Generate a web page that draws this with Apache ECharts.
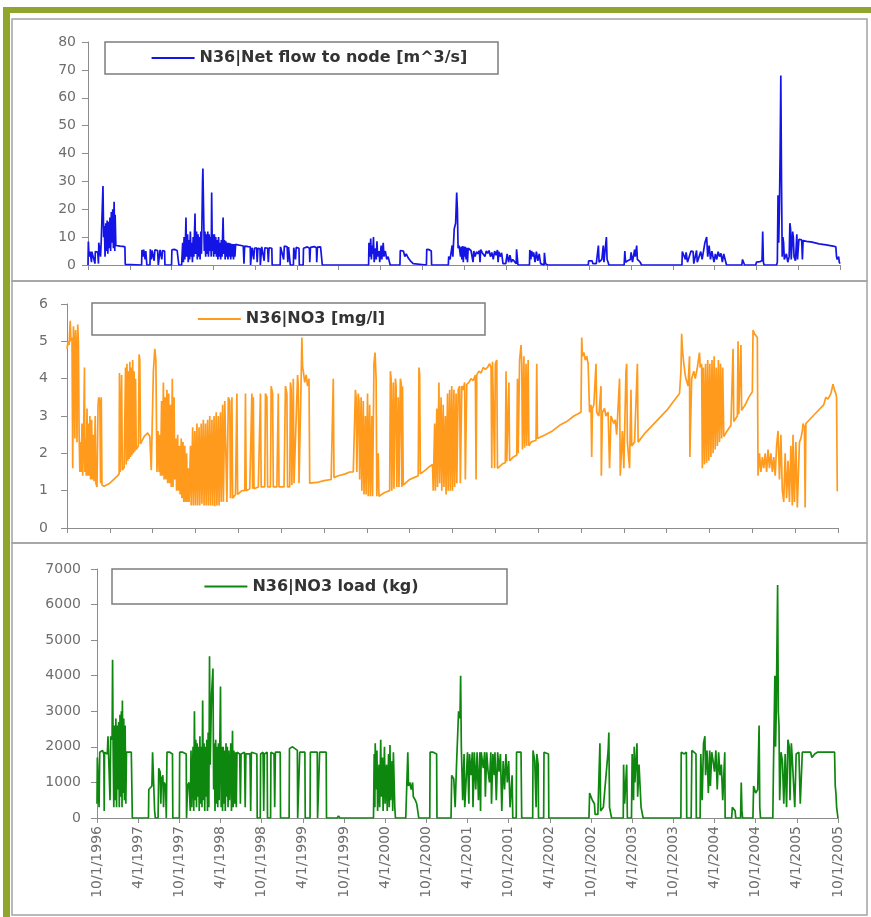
<!DOCTYPE html>
<html><head><meta charset="utf-8">
<script src="https://cdn.jsdelivr.net/npm/echarts@6/dist/echarts.min.js"></script>
<style>html,body{margin:0;padding:0;background:#fff}#c{width:871px;height:917px}</style>
</head><body><div id="c"></div>
<script>
// x values are months after 10/1/1996
const dateLabels = ['10/1/1996','4/1/1997','10/1/1997','4/1/1998','10/1/1998','4/1/1999','10/1/1999','4/1/2000','10/1/2000','4/1/2001','10/1/2001','4/1/2002','10/1/2002','4/1/2003','10/1/2003','4/1/2004','10/1/2004','4/1/2005','10/1/2005'];
const seriesNames = ['N36|Net flow to node [m^3/s]', 'N36|NO3 [mg/l]', 'N36|NO3 load (kg)'];

const flowData = [
[0,0],[0.05,8.4],[0.15,3],[0.3,4.8],[0.5,1],[0.55,4.8],[0.8,4.5],[1.0,0.5],[1.05,4.8],[1.4,4.6],[1.5,0.5],[1.55,8],[1.7,7.8],[1.8,3],[1.9,8.5],[2.1,8],[2.15,28.3],[2.25,10],[2.35,14],[2.45,3],[2.55,15],[2.65,5],[2.75,16],[2.85,4],[2.95,15.5],[3.05,6],[3.15,17],[3.25,5],[3.35,19],[3.45,8],[3.55,20],[3.65,6],[3.75,22.7],[3.85,5],[3.9,18],[4.0,7],[4.1,7],[4.6,6.8],[5.0,6.7],[5.3,6.5],[5.35,0.2],
[7.7,0],[7.75,5.4],[7.9,3],[8.0,5.5],[8.2,2],[8.3,5],[8.4,5.2],[8.45,0],[8.9,0],[8.95,5.6],[9.1,2],[9.2,5.2],[9.4,4.8],[9.5,1.5],[9.6,5.4],[9.8,5],[10.0,5.2],[10.1,0],[10.3,0],[10.35,5.4],[10.6,2],[10.7,5.2],[11.0,5],[11.05,0],[12.0,0],[12.05,5.4],[12.4,5.6],[12.8,5.2],[13.0,4.8],[13.05,0],[13.45,0],
[13.5,3],[13.6,8],[13.7,1],[13.8,10],[13.9,2],[14.0,9],[14.07,17],[14.15,3],[14.3,11],[14.4,1],[14.5,9],[14.6,2],[14.7,12],[14.8,3],[14.9,8],[15.0,1],[15.1,10],[15.2,3],[15.37,18.5],[15.45,4],[15.6,12],[15.7,2],[15.8,11],[15.9,3],[16.0,10],[16.1,2],[16.2,12],[16.3,4],[16.45,30],[16.5,34.6],[16.65,34],[16.7,5],[16.8,12],[16.9,3],[17.0,11],[17.1,4],[17.2,12],[17.3,3],[17.4,11],[17.5,5],[17.6,10],[17.7,3],[17.76,26],[17.85,5],[17.95,11],[18.05,3],[18.15,11],[18.25,4],[18.35,10],[18.45,3],[18.55,9],[18.65,2],[18.75,10],[18.85,3],[18.95,8],[19.05,2],[19.15,9],[19.25,3],[19.4,17],[19.5,4],[19.6,9],[19.7,2],[19.8,8.5],[19.9,3],[20.0,8],[20.1,2],[20.2,8],[20.3,3],[20.4,7.8],[20.5,2],[20.6,7.6],[20.7,3],[20.8,7.5],[20.9,2],[21.0,7.5],[21.1,3],[21.2,7.4],[21.35,7.2],
[21.5,7.2],[21.6,7.4],[22.0,7.0],[22.3,6.8],[22.4,0.5],[22.5,6.8],[23.0,6.6],[23.3,6.5],[23.35,0],[23.5,0],[23.55,6.2],[23.8,2],[23.9,6],[24.2,6.2],[24.3,1],[24.4,6],[24.7,5.8],[24.75,0],[24.9,0],[24.95,6.5],[25.3,1.5],[25.4,6.2],[25.8,6],[25.9,1],[26.0,6.2],[26.4,6],[26.45,0],[27.6,0],[27.65,6.5],[27.9,7],[28.1,2],[28.2,6.8],[28.6,6.5],[28.7,1],[28.8,6.4],[29.0,6],[29.05,0],[29.5,0],[29.55,6.2],[29.8,2],[29.9,6.3],[30.3,6],[30.35,0],[30.9,0],[30.95,6],[31.5,6.5],[31.8,6],[31.85,1],[31.95,6.3],[32.5,6.6],[32.8,6.2],[32.85,1],[32.95,6.4],[33.4,6.5],[33.6,6],[33.65,0],
[40.3,0],[40.35,8],[40.5,3],[40.6,9.5],[40.7,2],[40.8,7],[40.9,4],[41.0,10],[41.1,1],[41.3,6],[41.4,2],[41.5,8.5],[41.6,3],[41.8,5],[41.9,1],[42.1,7],[42.2,2],[42.4,8],[42.5,3],[42.7,5],[42.9,2],[43.1,3],[43.4,0],
[44.8,0],[44.85,5.2],[45.3,5],[45.5,3],[45.7,4],[46.0,2.5],[46.3,1.5],[46.7,0.5],[46.8,0],
[48.6,0],[48.65,5.6],[49.0,5.5],[49.3,5],[49.35,0],
[51.75,0],[51.8,3],[52.0,2],[52.3,7],[52.4,3],[52.6,13],[52.8,15],[52.95,26],[53.05,20],[53.15,6],[53.3,7],[53.4,7.2],
[53.5,3],[53.6,6.5],[53.7,2],[53.8,6.8],[53.9,1],[54.0,6.6],[54.1,3],[54.2,6.5],[54.3,2],[54.4,6.2],[54.5,1],[54.6,6],[54.8,5.6],[55.0,5.2],[55.2,5.5],[55.3,1],[55.4,5],[55.6,3],[55.8,4.8],[56.0,4],[56.2,5.2],[56.3,1],[56.4,5.5],[56.6,4.5],[56.8,5.2],[57.0,3],[57.2,5],[57.4,4.2],[57.6,5.2],[57.8,3],[58.0,4.5],[58.2,2],[58.4,5],[58.6,3.5],[58.8,5.4],[58.9,1],[59.0,4.8],[59.2,3],[59.4,4.4],[59.6,0.5],
[59.7,0],[60.0,0.5],[60.2,4],[60.4,1],[60.6,3.5],[60.8,1],[61.0,2],[61.5,0.5],[61.55,5.6],[61.7,5.4],[61.75,0],[63.4,0],[63.45,5.4],[63.6,2],[63.7,5],[63.9,3],[64.0,4.5],[64.2,1],[64.4,4.8],[64.6,1.5],[64.8,4],[65.0,0.5],[65.5,0],[65.55,4.4],[65.7,0.5],[66.0,0],
[71.85,0],[71.9,1.5],[72.4,1.5],[72.5,0.5],[73.0,0.5],[73.3,7],[73.4,1],[73.8,2],[74.0,7],[74.1,1],[74.45,10],[74.55,2],[74.7,1],[74.8,0],
[77.0,0],[77.1,5],[77.2,1],[77.5,1.5],[77.9,2],[78.0,4.5],[78.2,1],[78.5,5.5],[78.6,3],[78.8,7],[78.9,2],[79.1,2.5],[79.3,1],[79.5,0],
[85.3,0],[85.35,4.8],[85.6,5.2],[85.8,2],[85.9,4.5],[86.1,1],[86.6,5],[86.9,4.8],[87.0,0.5],[87.4,5.2],[87.5,1],[87.7,0.5],[88.0,4.8],[88.2,2],[88.6,8],[88.85,10],[89.0,3],[89.2,7],[89.4,2],[89.6,5],[89.8,4.5],[89.9,1],[90.1,4],[90.3,2],[90.5,4.8],[90.7,3],[90.9,4.2],[91.1,1],[91.3,4],[91.5,2],[91.7,0],
[93.9,0],[94.0,2],[94.2,1.5],[94.3,0],
[95.9,0],[96.0,1],[96.5,1.2],[96.8,1.5],[96.9,12],[97.0,1],[97.1,0],
[98.9,0],[99.0,1],[99.1,25],[99.2,8],[99.3,20],[99.4,40],[99.5,68],[99.6,30],[99.7,3],[99.8,10],[99.9,8],[100.0,2],[100.3,4],[100.5,1],[100.7,3],[100.8,15],[100.9,13],[101.0,2],[101.2,12],[101.3,10],[101.4,3],[101.6,1.5],[101.8,11],[101.9,2],[102.1,9.2],[102.3,9],[102.5,9],[102.6,2],[102.7,8.8],[103.2,8.5],[104,8.2],[105,7.6],[106,7.2],[107,6.8],[107.4,6.5],[107.5,3],[107.6,2],[107.8,3],[107.9,1],[108,0.5]
];

const no3Data = [
[0,4.8],[0.15,5.0],[0.3,4.9],[0.45,5.55],[0.55,5.0],[0.7,5.1],[0.8,1.6],[0.9,5.4],[1.0,4.9],[1.1,2.4],[1.2,5.3],[1.3,4.8],[1.4,2.3],[1.5,5.45],[1.6,5.0],[1.7,2.5],[1.8,1.5],[1.9,2.3],[2.0,1.5],[2.1,2.8],[2.2,1.4],[2.3,2.2],[2.45,4.3],[2.5,1.5],[2.6,2.4],[2.7,1.4],[2.8,3.2],[2.9,1.4],[3.0,2.8],[3.1,1.4],[3.2,3.0],[3.3,1.3],[3.45,2.9],[3.55,1.3],[3.7,2.5],[3.8,1.25],[3.95,3.0],[4.05,1.2],[4.2,1.1],[4.35,3.3],[4.45,3.5],[4.6,3.4],[4.7,1.2],[4.8,3.5],[4.9,1.15],[5.2,1.12],[6.0,1.2],[7.0,1.38],[7.3,1.45],[7.35,4.15],[7.45,1.5],[7.65,4.1],[7.75,1.55],[8.0,1.62],
[8.2,4.3],[8.3,1.7],[8.4,4.4],[8.5,1.8],[8.6,4.2],[8.7,1.85],[8.8,4.45],[8.9,1.9],[9.0,4.3],[9.1,1.95],[9.2,4.5],[9.3,2.0],[9.4,4.2],[9.5,2.05],[9.6,4.0],[9.7,2.1],[9.8,2.15],[10.0,2.2],[10.1,4.65],[10.2,4.5],[10.3,2.25],[10.8,2.45],[11.3,2.55],[11.6,2.45],[11.8,1.55],[11.9,1.6],[12.1,4.2],[12.3,4.8],[12.45,4.5],
[12.6,1.5],[12.75,2.6],[12.9,1.5],[13.0,2.5],[13.1,1.4],[13.25,3.4],[13.35,1.4],[13.5,3.9],[13.6,1.3],[13.75,3.5],[13.85,1.3],[14.0,3.7],[14.1,1.2],[14.25,3.6],[14.35,1.2],[14.5,3.3],[14.6,1.1],[14.75,4.0],[14.85,1.1],[15.0,3.5],[15.1,1.3],[15.25,2.4],[15.35,1.0],[15.5,2.5],[15.6,1.0],[15.75,2.2],[15.85,0.9],[16.0,2.4],[16.1,0.8],[16.25,2.3],[16.35,0.7],[16.5,2.2],[16.6,0.7],[16.75,2.0],[16.85,0.7],[17.0,1.6],[17.1,0.7],[17.3,2.2],[17.4,0.6],[17.6,2.7],[17.7,0.6],[17.9,2.6],[18.0,0.6],[18.2,2.8],[18.3,0.6],[18.5,2.7],[18.6,0.6],[18.8,2.8],[18.9,0.65],[19.1,2.9],[19.2,0.6],[19.4,2.8],[19.5,0.6],[19.7,2.9],[19.8,0.6],[20.0,3.0],[20.1,0.6],[20.3,2.9],[20.4,0.6],[20.6,3.0],[20.7,0.58],[20.9,3.1],[21.0,0.6],[21.2,3.0],[21.3,0.6],[21.5,3.1],
[21.6,0.7],[21.8,3.3],[21.9,0.7],[22.1,3.4],[22.3,3.35],[22.4,0.7],[22.6,3.5],[22.8,3.4],[22.9,0.8],[23.1,3.5],[23.2,0.8],[23.4,0.85],[23.6,0.9],[23.8,3.6],[23.9,0.9],[24.5,1.0],[24.9,1.0],[25.0,3.6],[25.1,1.0],[25.6,1.05],[25.9,3.6],[26.0,1.05],[26.1,3.5],[26.2,1.05],[26.8,1.1],[27.1,3.6],[27.2,1.1],[27.7,1.1],[27.8,3.6],[28.0,3.5],[28.1,1.1],[28.5,1.1],[28.6,3.8],[28.8,3.6],[28.9,1.1],[29.4,1.1],[29.6,3.6],[29.7,1.1],[30.4,1.1],[30.6,3.8],[30.8,3.6],[30.9,1.1],[31.2,1.1],[31.3,3.9],[31.4,3.7],[31.5,1.15],[31.7,4.0],[31.8,1.2],[32.0,1.15],[32.3,4.1],[32.4,3.8],[32.5,1.2],[32.8,4.0],[32.9,5.1],[33.0,4.3],[33.1,4.2],[33.3,3.9],[33.5,4.1],[33.7,3.8],[33.9,4.0],[34.0,1.2],
[35,1.22],[36,1.27],[37,1.3],[37.2,1.32],[37.3,4.0],[37.4,1.35],[38,1.4],[39,1.45],[39.6,1.5],[39.8,1.5],[40.1,1.5],
[40.3,1.5],[40.4,3.7],[40.5,3.5],[40.6,1.5],[40.8,3.6],[40.9,3.4],[41.0,1.3],[41.2,3.5],[41.3,1.0],[41.5,3.4],[41.6,0.9],[41.8,3.0],[41.9,0.9],[42.1,3.6],[42.2,0.85],[42.4,3.3],[42.5,0.85],[42.7,3.0],[42.8,0.85],[43.0,4.4],[43.15,4.7],[43.3,4.0],[43.4,0.85],[43.6,2.0],[43.7,0.85],[43.9,0.85],
[44.5,0.95],[45.2,1.0],
[45.3,4.2],[45.4,4.0],[45.5,1.0],[45.7,3.9],[45.8,1.05],[46.0,4.0],[46.1,3.8],[46.2,1.1],[46.4,3.5],[46.5,1.1],[46.7,4.0],[46.8,3.9],[46.9,1.1],[47.0,3.8],[47.1,1.15],[47.3,1.2],
[48.0,1.3],[48.6,1.35],[49.2,1.4],[49.3,4.3],[49.4,4.1],[49.5,1.45],[50.2,1.55],[50.8,1.65],[51.2,1.7],
[51.3,1.0],[51.5,2.8],[51.6,1.0],[51.8,3.2],[51.9,1.1],[52.1,3.9],[52.2,1.2],[52.4,3.5],[52.5,1.0],[52.7,3.3],[52.8,1.1],[53.0,3.0],[53.1,0.9],[53.3,3.6],[53.4,1.0],[53.6,3.7],[53.7,1.0],[53.9,3.8],[54.0,1.0],[54.2,3.7],[54.3,1.1],[54.5,3.6],[54.6,1.2],[54.8,3.7],[55.0,3.8],[55.1,1.2],
[55.3,3.8],[55.5,3.7],[55.7,3.9],[55.8,1.3],[56.0,3.85],[56.3,3.9],[56.6,4.0],[56.9,3.95],[57.2,4.1],[57.3,1.3],[57.4,4.1],[57.7,4.2],[58.0,4.15],[58.3,4.3],[58.6,4.25],[58.9,4.3],[59.2,4.4],[59.4,4.3],[59.5,1.6],[59.6,4.45],[59.8,4.5],[59.9,1.6],[60.0,4.4],[60.2,4.5],[60.3,1.6],[60.5,1.65],
[61.0,1.72],[61.4,1.75],[61.5,4.2],[61.6,1.78],[61.9,3.9],[62.0,1.8],[62.5,1.9],[63.0,1.95],
[63.1,4.0],[63.2,2.0],[63.4,4.5],[63.6,4.9],[63.7,4.4],[63.8,2.1],[64.0,4.6],[64.1,2.15],[64.3,4.4],[64.4,2.2],[64.6,4.5],[64.7,2.2],[65.0,2.3],[65.7,2.35],[65.8,4.4],[65.9,2.4],[67,2.5],[68,2.6],[69,2.75],[70,2.85],[71,3.0],[72.0,3.1],
[72.1,5.1],[72.2,4.6],[72.4,4.7],[72.6,4.5],[72.8,4.6],[73.0,4.4],[73.2,3.1],[73.4,3.3],[73.5,1.9],[73.6,3.2],[73.8,3.3],[74.1,4.4],[74.2,3.1],[74.5,3.0],[74.8,3.8],[74.85,1.4],[75.0,3.1],[75.3,3.2],[75.5,3.0],[75.8,3.1],[76.0,1.6],[76.2,3.0],[76.6,2.8],[76.8,2.9],[77.0,2.5],[77.4,4.0],[77.5,1.4],[77.8,2.6],[78.0,1.6],[78.3,4.2],[78.4,4.4],[78.5,2.3],[78.8,1.6],[79.0,3.7],[79.1,2.2],[79.5,2.3],[79.9,4.4],[80.0,2.3],
[81,2.55],[82,2.75],[83,2.95],[84,3.15],[85,3.4],[85.8,3.6],
[86.0,4.2],[86.1,5.2],[86.2,4.8],[86.4,4.4],[86.6,4.1],[86.7,4.0],[87.0,3.8],[87.2,4.6],[87.25,1.9],[87.5,4.0],[87.8,4.2],[88.0,4.0],[88.3,4.3],[88.6,4.7],[88.7,4.3],[88.9,4.4],
[89.0,1.6],[89.15,4.3],[89.3,1.7],[89.45,4.4],[89.6,1.75],[89.75,4.5],[89.9,1.8],[90.05,4.4],[90.2,1.9],[90.35,4.5],[90.5,2.0],[90.65,4.6],[90.8,2.1],[90.95,4.3],[91.1,2.2],[91.25,4.5],[91.4,2.3],[91.55,4.4],[91.7,2.4],[91.85,4.3],[92.0,2.45],[92.3,2.55],
[93.0,2.75],[93.2,2.8],[93.3,4.8],[93.4,2.85],[93.9,3.0],[94.0,5.0],[94.1,3.05],[94.3,3.1],[94.4,4.9],[94.5,3.15],[95,3.3],[95.5,3.5],[96.0,3.65],[96.1,5.3],[96.3,5.2],[96.5,5.15],[96.7,5.1],[96.8,1.4],
[97.0,2.0],[97.2,1.5],[97.4,1.9],[97.6,1.6],[97.8,2.0],[98.0,1.5],[98.2,2.1],[98.4,1.6],[98.6,2.0],[98.8,1.5],[99.0,1.9],[99.2,1.4],[99.4,2.2],[99.6,2.6],[99.8,1.3],[100.0,2.5],[100.2,1.0],
[100.4,0.7],[100.6,2.0],[100.8,0.8],[101.0,1.8],[101.2,0.7],[101.4,2.2],[101.6,0.6],[101.7,2.5],[101.9,0.7],[102.1,2.3],[102.3,0.55],[102.4,0.5],[102.6,2.3],[102.8,2.4],[103.0,2.6],[103.1,2.8],[103.3,2.7],[103.4,0.55],[103.5,2.8],[104,2.9],[104.5,3.0],[105,3.1],[105.5,3.2],[106,3.3],[106.3,3.5],[106.6,3.45],[107.0,3.6],[107.3,3.85],[107.5,3.7],[107.7,3.6],[107.8,3.5],[107.9,1.0],[108,1.0]
];

const loadData = [
[0,400],[0.05,1700],[0.2,1750],[0.3,300],[0.4,1850],[0.8,1900],[1.0,1800],[1.05,200],[1.1,1850],[1.5,1800],[1.6,2300],[1.8,2250],[1.9,500],[2.0,2300],[2.2,2200],[2.27,4450],[2.35,2000],[2.45,300],[2.55,2600],[2.65,500],[2.75,2800],[2.85,300],[2.95,2600],[3.05,800],[3.15,2700],[3.25,300],[3.35,2900],[3.45,600],[3.55,3000],[3.65,300],[3.7,3300],[3.8,700],[3.9,2800],[4.0,500],[4.1,2600],[4.2,400],[4.3,1850],[4.7,1850],[5.0,1850],[5.1,1800],[5.15,0],
[7.5,0],[7.55,800],[7.8,850],[8.0,900],[8.1,1850],[8.3,1800],[8.4,200],[8.5,0],[8.9,0],[9.0,1400],[9.2,1300],[9.3,400],[9.4,1100],[9.6,1200],[9.7,300],[9.8,1000],[10.0,900],[10.1,0],[10.2,1850],[10.6,1850],[11.0,1800],[11.05,0],
[12.0,0],[12.05,1850],[12.5,1850],[13.0,1800],[13.05,0],
[13.2,900],[13.4,1000],[13.6,200],[13.7,1900],[13.8,300],[14.0,2000],[14.1,200],[14.2,3000],[14.3,500],[14.4,2200],[14.5,300],[14.6,2100],[14.7,600],[14.8,2000],[14.9,200],[15.0,2300],[15.1,400],[15.2,2000],[15.3,300],[15.4,3300],[15.5,500],[15.6,2100],[15.7,200],[15.8,2000],[15.9,600],[16.0,2200],[16.1,200],[16.2,2400],[16.3,300],[16.4,4550],[16.5,1500],[16.7,3500],[16.9,4200],[17.0,800],[17.1,2100],[17.2,200],[17.3,2200],[17.4,400],[17.5,2000],[17.6,300],[17.7,2100],[17.8,500],[18.0,3700],[18.1,300],[18.2,2000],[18.3,200],[18.4,2000],[18.5,400],[18.6,1900],[18.7,200],[18.8,2100],[18.9,600],[19.0,2000],[19.1,300],[19.2,1900],[19.3,500],[19.5,2100],[19.6,200],[19.75,2450],[19.85,300],[19.95,1900],[20.05,400],[20.2,1850],[20.3,300],
[20.4,1850],[20.8,1800],[20.9,400],[21.0,1800],[21.5,1850],[21.6,300],[21.7,1800],[22.3,1800],[22.4,200],[22.5,1850],[23.3,1800],[23.35,0],[23.8,0],[23.85,1800],[24.2,1850],[24.3,200],[24.4,1800],[24.8,1850],[24.85,0],[25.3,0],[25.35,1850],[25.8,1800],[25.9,300],[26.0,1850],[26.7,1850],[26.75,0],[28.0,0],[28.05,1950],[28.5,2000],[29.2,1900],[29.25,0],[29.5,0],[29.55,1850],[30.3,1850],[30.35,0],[31.05,0],[31.1,1850],[32.1,1850],[32.15,0],[32.4,0],[32.45,1850],[33.4,1850],[33.45,0],
[35.0,0],[35.2,60],[35.4,0],[36.5,0],[36.7,50],[36.9,0],
[40.3,0],[40.4,1800],[40.5,300],[40.55,2100],[40.7,800],[40.8,1900],[40.9,200],[41.1,1500],[41.2,300],[41.35,2200],[41.45,600],[41.6,1700],[41.7,200],[41.9,2000],[42.0,400],[42.2,1500],[42.3,200],[42.5,1800],[42.6,300],[42.7,2050],[42.8,500],[43.0,1600],[43.1,200],[43.2,1850],[43.4,300],[43.5,0],
[45.0,0],[45.3,1850],[45.4,900],[45.6,1000],[45.8,800],[46.0,1000],[46.1,600],[46.4,500],[46.6,400],[46.9,0],
[48.5,0],[48.55,1850],[49.0,1850],[49.5,1800],[49.55,0],
[51.6,0],[51.7,1200],[52.0,1100],[52.2,300],[52.4,1500],[52.6,2500],[52.7,3000],[52.9,2800],[53.0,4000],[53.1,2000],[53.3,500],[53.5,1800],[53.6,300],
[54.0,1850],[54.2,400],[54.3,1800],[54.5,1200],[54.7,1850],[54.8,300],[55.0,1850],[55.2,800],[55.4,1850],[55.6,500],[55.8,1850],[55.9,200],
[56.0,1850],[56.3,1400],[56.5,1850],[56.6,600],[56.8,1850],[57.0,1300],[57.2,1000],[57.4,1850],[57.5,400],[57.7,1800],[57.9,1200],[58.0,1850],[58.2,500],[58.4,1850],[58.6,1300],[58.8,1800],[59.0,200],[59.2,1600],[59.4,800],[59.6,1800],[59.8,1000],[60.0,1600],[60.2,300],[60.5,1200],[60.6,0],
[61.1,0],[61.15,1850],[61.8,1850],[61.9,0],
[63.5,0],[63.55,1900],[63.8,1600],[64.0,300],[64.1,1800],[64.3,1500],[64.35,0],[65.1,0],[65.15,1850],[65.8,1800],[65.85,0],
[71.7,0],[71.8,700],[72.2,500],[72.5,400],[72.6,100],[73.0,100],[73.3,2100],[73.4,200],[73.8,300],[74.5,1900],[74.6,2400],[74.7,300],[75,0],
[76.7,0],[76.75,1500],[76.9,400],[77.2,1500],[77.3,0],[77.9,0],[78.0,1800],[78.2,500],[78.3,2000],[78.4,1000],[78.7,2100],[78.8,600],[79.0,1500],[79.3,300],[79.6,0],
[85.1,0],[85.15,1850],[85.6,1800],[85.9,1850],[85.95,0],[86.6,0],[86.7,1900],[87.0,1850],[87.3,1800],[87.35,0],[87.9,0],[88.0,1800],[88.2,500],[88.4,2100],[88.6,2300],[88.7,1200],[88.9,1900],[89.0,1400],[89.1,700],[89.3,1900],[89.4,900],[89.6,1850],[89.8,1600],[90.0,1300],[90.2,1900],[90.4,800],[90.6,1850],[90.8,1200],[91.0,1500],[91.2,500],[91.5,1850],[91.55,0],
[92.5,0],[92.6,300],[93.0,200],[93.1,0],[93.8,0],[93.9,1000],[94.0,200],[94.1,0],
[95.6,0],[95.7,900],[96.0,700],[96.3,800],[96.5,2600],[96.6,300],[96.7,0],
[98.5,0],[98.6,1500],[98.8,4000],[98.9,2000],[99.0,3000],[99.2,6550],[99.3,3000],[99.4,2600],[99.5,500],[99.7,1850],[99.9,1600],[100.1,400],[100.3,1800],[100.5,300],[100.7,2200],[100.9,2000],[101.0,500],[101.2,2100],[101.3,1800],[101.5,1850],[101.7,300],[101.9,1800],[102.3,1850],[102.5,400],[102.8,1850],[103.5,1850],[104.0,1850],[104.2,1700],[104.4,1650],[104.6,1800],[105,1850],[106,1850],[107,1850],[107.5,1850],[107.6,900],[107.7,700],[107.8,300],[108,0]
];

const yMax = [80, 6, 7000];
const yStep = [10, 1, 1000];
const colors = ['#1414e6', '#ff9a1c', '#0e870e'];

// layout (pixels)
const grids = [
  {left: 88, right: 31, top: 42, height: 223, labelMargin: 12},
  {left: 67, right: 33, top: 304, height: 224, labelMargin: 19},
  {left: 97, right: 33, top: 569, height: 249, labelMargin: 16}
];
const legendBoxes = [
  {x: 105, y: 42, w: 393, h: 33, shift: 8},
  {x: 92, y: 303, w: 393, h: 33, shift: 3},
  {x: 112, y: 569, w: 395, h: 36, shift: 2}
];

const FONT = '"DejaVu Sans", Arial, sans-serif';
const measureCtx = document.createElement('canvas').getContext('2d');
function textWidth(s, font) { measureCtx.font = font; return measureCtx.measureText(s).width; }

const axisGray = '#8c8c8c';
const labelGray = '#6e6e6e';

const option = {
  animation: false,
  backgroundColor: '#ffffff',
  grid: grids.map(g => ({left: g.left, right: g.right, top: g.top, height: g.height, containLabel: false})),
  xAxis: grids.map((g, i) => ({
    type: 'value', gridIndex: i, min: 0, max: 108, interval: 6,
    axisLine: {show: true, onZero: false, lineStyle: {color: axisGray, width: 1}},
    axisTick: {show: true, length: 5, lineStyle: {color: axisGray}},
    splitLine: {show: false},
    axisLabel: {
      show: i === 2, rotate: 90, margin: 8, fontFamily: FONT, fontSize: 14, color: labelGray,
      formatter: v => dateLabels[Math.round(v / 6)] || ''
    }
  })),
  yAxis: grids.map((g, i) => ({
    type: 'value', gridIndex: i, min: 0, max: yMax[i], interval: yStep[i],
    axisLine: {show: true, lineStyle: {color: axisGray, width: 1}},
    axisTick: {show: true, length: 6, lineStyle: {color: axisGray}},
    splitLine: {show: false},
    axisLabel: {margin: g.labelMargin, fontFamily: FONT, fontSize: 14, color: labelGray, formatter: v => String(v)}
  })),
  legend: seriesNames.map((name, i) => {
    const b = legendBoxes[i];
    const font = 'bold 16px ' + FONT;
    const cw = 43 + 5 + textWidth(name, font);
    const hp = Math.max(2, (b.w - cw) / 2);
    const vp = Math.max(2, (b.h - 17) / 2);
    return {
      data: [{name: name, icon: 'rect'}], left: b.x, top: b.y, padding: [vp, hp - b.shift, vp, hp + b.shift],
      itemWidth: 43, itemHeight: 2, selectedMode: false,
      borderColor: '#7d7d7d', borderWidth: 1.5, backgroundColor: '#ffffff',
      textStyle: {fontFamily: FONT, fontWeight: 'bold', fontSize: 16, color: '#333333'}
    };
  }),
  graphic: [
    {type: 'rect', shape: {x: 3, y: 7, width: 868, height: 6}, style: {fill: '#8fa52b'}, silent: true},
    {type: 'rect', shape: {x: 3, y: 7, width: 7, height: 910}, style: {fill: '#8fa52b'}, silent: true},
    {type: 'rect', shape: {x: 12, y: 19, width: 855, height: 262}, style: {fill: 'none', stroke: '#a3a3a3', lineWidth: 1.5}, silent: true, z: -1},
    {type: 'rect', shape: {x: 12, y: 281, width: 855, height: 262}, style: {fill: 'none', stroke: '#a3a3a3', lineWidth: 1.5}, silent: true, z: -1},
    {type: 'rect', shape: {x: 12, y: 543, width: 855, height: 372}, style: {fill: 'none', stroke: '#a3a3a3', lineWidth: 1.5}, silent: true, z: -1}
  ],
  series: [flowData, no3Data, loadData].map((d, i) => ({
    name: seriesNames[i], type: 'line', xAxisIndex: i, yAxisIndex: i,
    data: d, symbol: 'none', showSymbol: false, smooth: false, sampling: null,
    color: colors[i], lineStyle: {color: colors[i], width: 1.7},
    z: 3
  }))
};

const chart = echarts.init(document.getElementById('c'), null, {renderer: 'canvas'});
chart.setOption(option);
</script>
</body></html>
